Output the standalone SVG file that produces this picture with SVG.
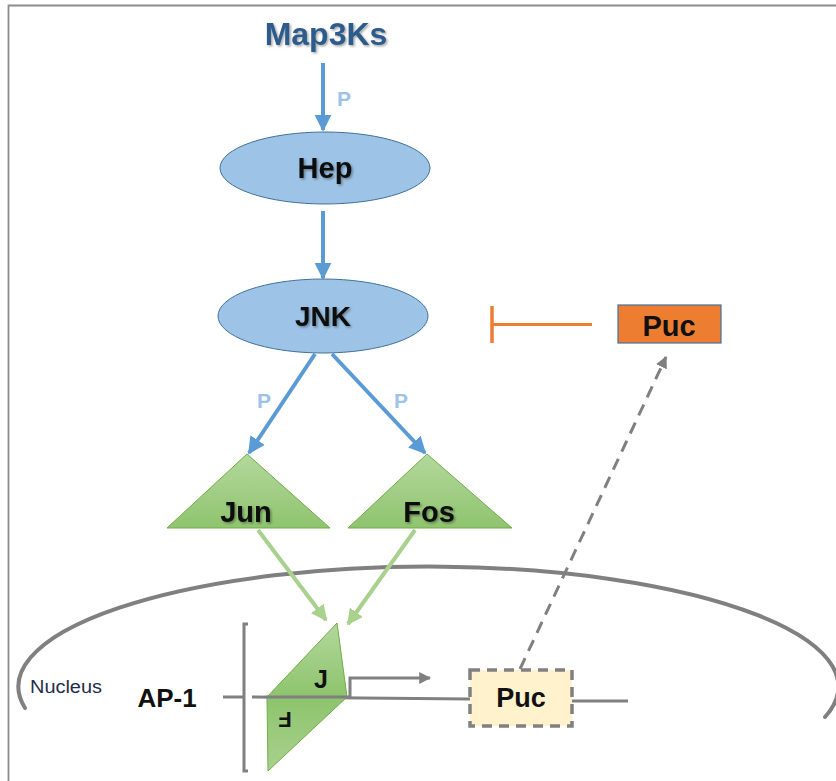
<svg xmlns="http://www.w3.org/2000/svg" width="836" height="781" viewBox="0 0 836 781">
  <defs>
    <style>
      .lbl { font-family: "Liberation Sans", Arial, sans-serif; font-weight: bold; text-anchor: middle; fill: #111; }
      .p { font-family: "Liberation Sans", Arial, sans-serif; font-weight: bold; font-size: 21px; fill: #9DC3E6; text-anchor: middle; }
      .blue { stroke: #5B9BD5; stroke-width: 4; fill: none; }
      .green { stroke: #A9D18E; stroke-width: 4; fill: none; }
      .grey { stroke: #808080; fill: none; }
      .oval { fill: #9DC3E6; stroke: #41719C; stroke-width: 1; }
      .tri { stroke: #70AD47; stroke-width: 1; }
    </style>
    <marker id="ahBlue" viewBox="0 0 10 10" refX="9" refY="5" markerWidth="4.3" markerHeight="4.5" orient="auto" markerUnits="strokeWidth">
      <path d="M0,0 L10,5 L0,10 z" fill="#5B9BD5"/>
    </marker>
    <marker id="ahGreen" viewBox="0 0 10 10" refX="9" refY="5" markerWidth="4" markerHeight="4" orient="auto" markerUnits="strokeWidth">
      <path d="M0,0 L10,5 L0,10 z" fill="#A9D18E"/>
    </marker>
    <marker id="ahGrey" viewBox="0 0 10 10" refX="9" refY="5" markerWidth="4" markerHeight="4" orient="auto" markerUnits="strokeWidth">
      <path d="M0,0 L10,5 L0,10 z" fill="#808080"/>
    </marker>
    <linearGradient id="gTri" x1="0" y1="0" x2="0" y2="1">
      <stop offset="0" stop-color="#B3D89C"/>
      <stop offset="1" stop-color="#8FC46F"/>
    </linearGradient>
    <linearGradient id="gJ" x1="0" y1="0" x2="0" y2="1">
      <stop offset="0" stop-color="#B3D89C"/>
      <stop offset="1" stop-color="#8DC46C"/>
    </linearGradient>
    <linearGradient id="gF" x1="0" y1="0" x2="0" y2="1">
      <stop offset="0" stop-color="#8DC46C"/>
      <stop offset="1" stop-color="#A9D18E"/>
    </linearGradient>
    <filter id="shadow" x="-20%" y="-20%" width="140%" height="140%">
      <feDropShadow dx="1.5" dy="1.5" stdDeviation="1" flood-color="#000" flood-opacity="0.35"/>
    </filter>
  </defs>

  <rect width="836" height="781" fill="#fff"/>
  <!-- frame -->
  <path d="M8.5,781 V5.5 H836" fill="none" stroke="#8C8C8C" stroke-width="1.8"/>

  <!-- nuclear envelope -->
  <path id="nucleus-envelope" class="grey" stroke-width="4" stroke-linecap="round" d="M25,708 A410,120 0 1 1 825,717"/>

  <g id="connectors">
    <line class="blue" x1="323" y1="63" x2="323" y2="130" marker-end="url(#ahBlue)"/>
    <line class="blue" x1="323" y1="211" x2="323" y2="278" marker-end="url(#ahBlue)"/>
    <line class="blue" x1="315" y1="354" x2="249" y2="453" marker-end="url(#ahBlue)"/>
    <line class="blue" x1="332" y1="354" x2="425" y2="453" marker-end="url(#ahBlue)"/>
    <text class="p" x="344" y="106">P</text>
    <text class="p" x="264" y="408">P</text>
    <text class="p" x="401" y="408">P</text>
    <line class="green" x1="258" y1="530" x2="326" y2="620" marker-end="url(#ahGreen)"/>
    <line class="green" x1="415" y1="530" x2="348" y2="624" marker-end="url(#ahGreen)"/>
    <!-- Puc feedback to its protein -->
    <line class="grey" stroke-width="3" stroke-dasharray="12,8" x1="520" y1="669" x2="666" y2="357" marker-end="url(#ahGrey)"/>
    <!-- Puc inhibits JNK -->
    <line x1="492" y1="324.5" x2="592" y2="324.5" stroke="#ED7D31" stroke-width="3"/>
    <line x1="492" y1="306" x2="492" y2="343" stroke="#ED7D31" stroke-width="3.5"/>
  </g>

  <g id="map3ks">
    <text class="lbl" x="326" y="45" font-size="32" style="fill:#2E5C8A" filter="url(#shadow)">Map3Ks</text>
  </g>

  <g id="hep">
    <ellipse class="oval" cx="325" cy="168" rx="105" ry="36"/>
    <text class="lbl" x="325" y="178" font-size="29" filter="url(#shadow)">Hep</text>
  </g>

  <g id="jnk">
    <ellipse class="oval" cx="323" cy="316" rx="105" ry="37"/>
    <text class="lbl" x="323" y="326" font-size="28" filter="url(#shadow)">JNK</text>
  </g>

  <g id="jun">
    <polygon class="tri" points="247,454 167,528 330,528" fill="url(#gTri)"/>
    <text class="lbl" x="246" y="522" font-size="29" filter="url(#shadow)">Jun</text>
  </g>

  <g id="fos">
    <polygon class="tri" points="427,454 348,528 512,528" fill="url(#gTri)"/>
    <text class="lbl" x="429" y="522" font-size="29" filter="url(#shadow)">Fos</text>
  </g>

  <g id="puc-protein">
    <rect x="618" y="305" width="103" height="38" fill="#ED7D31" stroke="#41719C" stroke-width="1.2"/>
    <text class="lbl" x="669" y="336" font-size="29">Puc</text>
  </g>

  <g id="ap1">
    <text class="lbl" x="167" y="707" font-size="26">AP-1</text>
    <!-- promoter bracket and DNA -->
    <path class="grey" stroke-width="3" d="M248,624 H244 V771 H248"/>
    <line class="grey" stroke-width="3" x1="223" y1="697" x2="243" y2="697"/>
    <line class="grey" stroke-width="3" x1="252" y1="697" x2="470" y2="699"/>
    <polygon class="tri" points="337,623 267,697 347,697" fill="url(#gJ)"/>
    <polygon class="tri" points="267,697 347,697 268,771" fill="url(#gF)"/>
    <line class="grey" stroke-width="3" x1="266" y1="697" x2="350" y2="697"/>
    <text class="lbl" x="321" y="688" font-size="25">J</text>
    <text class="lbl" x="0" y="0" font-size="22" transform="translate(285,712) rotate(180)">F</text>
    <!-- transcription start -->
    <path class="grey" stroke-width="3" d="M350,697 V678 H430" marker-end="url(#ahGrey)"/>
  </g>

  <g id="puc-gene">
    <line class="grey" stroke-width="3" x1="572" y1="701" x2="628" y2="701"/>
    <rect x="470" y="670" width="102" height="56" fill="#FFF2CC" stroke="#808080" stroke-width="3.5" stroke-dasharray="10,7"/>
    <text class="lbl" x="521" y="707" font-size="27">Puc</text>
  </g>

  <g id="nucleus">
    <text x="30" y="693" font-family="'Liberation Sans', Arial, sans-serif" font-size="18" textLength="72" lengthAdjust="spacingAndGlyphs" fill="#1F2D4A">Nucleus</text>
  </g>
</svg>
